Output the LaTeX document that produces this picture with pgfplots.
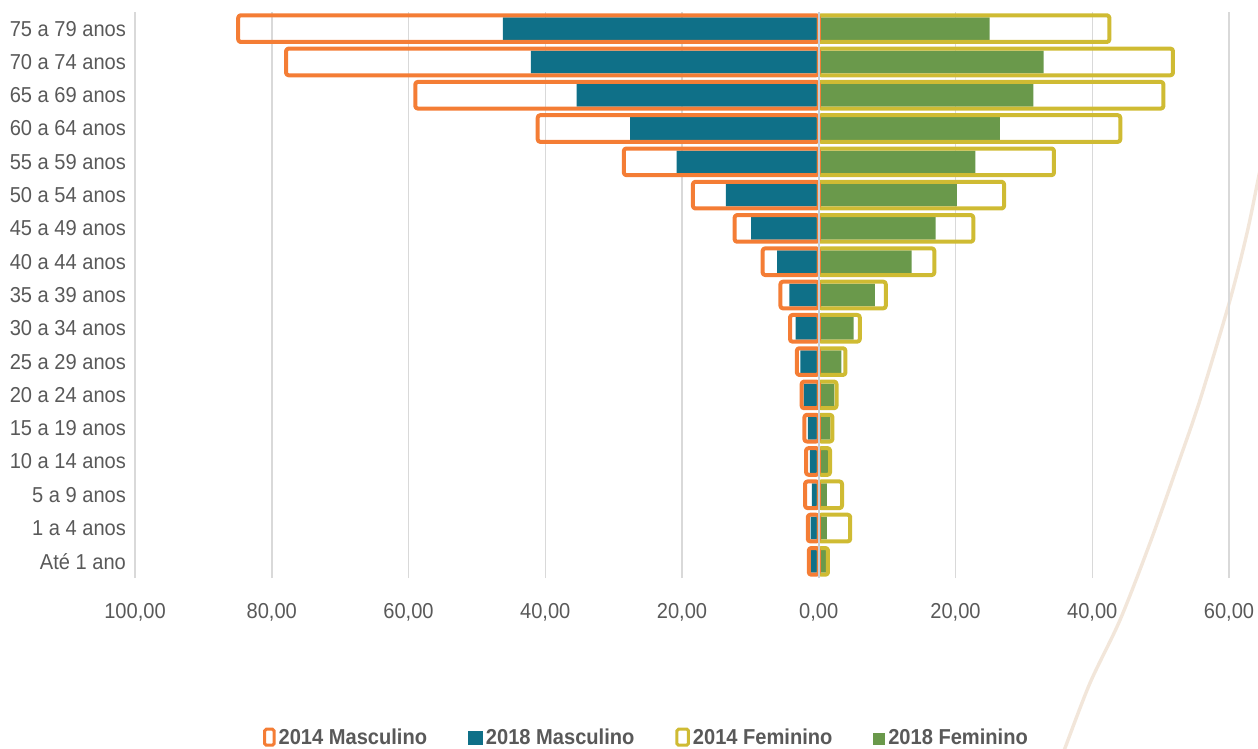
\documentclass[border=0pt]{standalone}
\usepackage{fontspec}
\setmainfont{Liberation Sans}[FakeStretch=0.93]
\usepackage{pgfplots}
\usepackage{pgfplotstable}
\pgfplotsset{compat=1.18}

\definecolor{laranja}{HTML}{F47D35}
\definecolor{petroleo}{HTML}{0F7088}
\definecolor{amarelo}{HTML}{CFBB33}
\definecolor{verde}{HTML}{6A994B}
\definecolor{grade}{HTML}{D9D9D9}
\definecolor{texto}{HTML}{595959}
\definecolor{bege}{HTML}{F2E6DA}
\definecolor{eixo}{HTML}{C5CFD9}

% idx 0 = Ate 1 ano ... 16 = 75 a 79 anos
\pgfplotstableread{
idx m14   m18  f14  f18
0   1.45  1.2  1.35 1.05
1   1.6   1.2  4.6  1.2
2   2.0   1.0  3.4  1.2
3   1.85  1.3  1.65 1.5
4   2.1   1.6  2.0  1.7
5   2.5   2.2  2.6  2.3
6   3.2   2.7  3.9  3.3
7   4.2   3.4  6.0  5.1
8   5.6   4.3  9.8  8.2
9   8.2   6.1  16.9 13.6
10  12.3  9.9  22.6 17.1
11  18.4  13.6 27.1 20.2
12  28.5  20.8 34.4 22.9
13  41.1  27.6 44.1 26.5
14  59.0  35.4 50.4 31.4
15  77.9  42.1 51.8 32.9
16  84.9  46.2 42.5 25.0
}\piramide

\begin{document}
\begin{tikzpicture}
\useasboundingbox (0,0) rectangle (629pt,-374.5pt);
\begin{scope}
  \clip (0,0) rectangle (629pt,-374.5pt);
  \draw[bege, line width=1.7pt] plot[smooth] coordinates {
    (633pt,-70pt) (629pt,-90pt) (623.5pt,-116.5pt) (615pt,-150pt) (600pt,-200pt)
    (588.5pt,-233.5pt) (575pt,-271.5pt) (560pt,-310pt) (545pt,-341.5pt) (532.5pt,-374pt) (531pt,-378pt)};
\end{scope}
\begin{axis}[
  at={(67.5pt,-289pt)}, anchor=south west,
  scale only axis, width=547pt, height=283pt,
  xmin=-100, xmax=60, ymin=-0.5, ymax=16.5,
  xtick={-100,-80,...,60},
  xticklabels={{100,00},{80,00},{60,00},{40,00},{20,00},{0,00},{20,00},{40,00},{60,00}},
  ytick={0,...,16},
  yticklabels={Até 1 ano, 1 a 4 anos, 5 a 9 anos, 10 a 14 anos, 15 a 19 anos,
    20 a 24 anos, 25 a 29 anos, 30 a 34 anos, 35 a 39 anos, 40 a 44 anos,
    45 a 49 anos, 50 a 54 anos, 55 a 59 anos, 60 a 64 anos, 65 a 69 anos,
    70 a 74 anos, 75 a 79 anos},
  xmajorgrids, grid style={grade, line width=0.75pt},
  axis line style={draw=none},
  major tick length=0pt,
  tick label style={font=\fontsize{10.8}{12}\selectfont, text=texto},
  xticklabel style={yshift=-9pt},
  yticklabel style={xshift=-1pt},
  legend columns=4,
  legend style={at={(0.468,-0.283)}, anchor=center, draw=none,
    font=\fontsize{10.8}{12}\selectfont\bfseries, text=texto,
    /tikz/every even column/.append style={column sep=19pt},
    nodes={inner sep=1.5pt}},
]
\addplot[xbar, bar shift=0pt, bar width=0.68, fill=petroleo, draw=none, forget plot]
  table[x expr=-\thisrow{m18}, y=idx]{\piramide};
\addplot[xbar, bar shift=0pt, bar width=0.68, fill=verde, draw=none, forget plot]
  table[x=f18, y=idx]{\piramide};
\addplot[xbar, bar shift=0pt, bar width=0.80, fill=none, draw=amarelo, line width=2pt,
  rounded corners=1.2pt, line join=round, forget plot]
  table[x=f14, y=idx]{\piramide};
\addplot[xbar, bar shift=0pt, bar width=0.80, fill=none, draw=laranja, line width=2pt,
  rounded corners=1.2pt, line join=round, forget plot]
  table[x expr=-\thisrow{m14}, y=idx]{\piramide};

\draw[eixo, line width=0.75pt] (axis cs:0,-0.5) -- (axis cs:0,16.5);

\addlegendimage{legend image code/.code={
  \draw[laranja, line width=1.5pt, rounded corners=0.8pt] (0.75pt,-3.5pt) rectangle (5.5pt,4.5pt);}}
\addlegendentry{2014 Masculino}
\addlegendimage{legend image code/.code={
  \fill[petroleo] (0pt,-3.2pt) rectangle (7pt,3.4pt);}}
\addlegendentry{2018 Masculino}
\addlegendimage{legend image code/.code={
  \draw[amarelo, line width=1.5pt, rounded corners=0.8pt] (0.75pt,-3.5pt) rectangle (6.5pt,4.5pt);}}
\addlegendentry{2014 Feminino}
\addlegendimage{legend image code/.code={
  \fill[verde] (0pt,-3.2pt) rectangle (5.5pt,2.3pt);}}
\addlegendentry{2018 Feminino}
\end{axis}
\end{tikzpicture}
\end{document}
